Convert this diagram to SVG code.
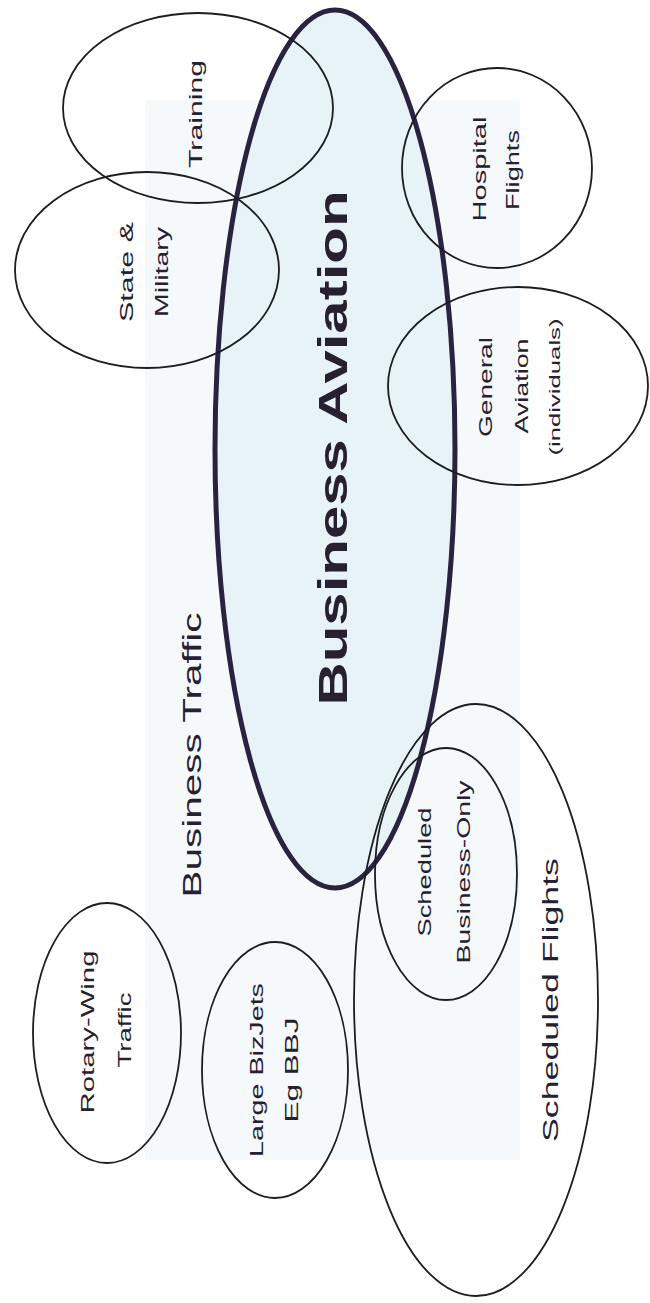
<svg xmlns="http://www.w3.org/2000/svg" width="650" height="1303" viewBox="0 0 650 1303">
<style>
.lbl{font-family:"Liberation Sans",Arial,sans-serif;fill:#262030;text-anchor:middle}
.thin{fill:none;stroke:#1c1c22;stroke-width:1.8}
.big{fill:#e8f3f8;stroke:#2a2340;stroke-width:5}
</style>
<rect width="650" height="1303" fill="#ffffff"/>
<rect x="145" y="100" width="375" height="1060" fill="#f5f9fc"/>
<g id="business-aviation">
<ellipse class="big" cx="335" cy="449" rx="120" ry="439"/>
<text class="lbl" transform="translate(347,448) rotate(-90)" font-size="40" font-weight="bold" textLength="515" lengthAdjust="spacingAndGlyphs">Business Aviation</text>
</g>
<g id="training">
<ellipse class="thin" cx="198" cy="108" rx="135" ry="95"/>
<text class="lbl" transform="translate(202,114) rotate(-90)" font-size="19" textLength="108" lengthAdjust="spacingAndGlyphs">Training</text>
</g>
<g id="state-military">
<ellipse class="thin" cx="147" cy="270" rx="132" ry="98"/>
<text class="lbl" transform="translate(133,272) rotate(-90)" font-size="19" textLength="100" lengthAdjust="spacingAndGlyphs">State &amp;</text>
<text class="lbl" transform="translate(168,272) rotate(-90)" font-size="19" textLength="90" lengthAdjust="spacingAndGlyphs">Military</text>
</g>
<g id="hospital-flights">
<ellipse class="thin" cx="497" cy="168" rx="95" ry="100"/>
<text class="lbl" transform="translate(486,169) rotate(-90)" font-size="19" textLength="105" lengthAdjust="spacingAndGlyphs">Hospital</text>
<text class="lbl" transform="translate(519,170) rotate(-90)" font-size="19" textLength="80" lengthAdjust="spacingAndGlyphs">Flights</text>
</g>
<g id="general-aviation">
<ellipse class="thin" cx="518" cy="386" rx="130" ry="99"/>
<text class="lbl" transform="translate(492,387) rotate(-90)" font-size="19" textLength="100" lengthAdjust="spacingAndGlyphs">General</text>
<text class="lbl" transform="translate(528,386) rotate(-90)" font-size="19" textLength="95" lengthAdjust="spacingAndGlyphs">Aviation</text>
<text class="lbl" transform="translate(560,387) rotate(-90)" font-size="14" textLength="137" lengthAdjust="spacingAndGlyphs">(individuals)</text>
</g>
<g id="business-traffic">
<text class="lbl" transform="translate(201,755) rotate(-90)" font-size="25" textLength="285" lengthAdjust="spacingAndGlyphs">Business Traffic</text>
</g>
<g id="scheduled-flights">
<ellipse class="thin" cx="476" cy="1000" rx="122" ry="296"/>
<text class="lbl" transform="translate(558,1000) rotate(-90)" font-size="22" textLength="284" lengthAdjust="spacingAndGlyphs">Scheduled Flights</text>
</g>
<g id="scheduled-business-only">
<ellipse class="thin" cx="446" cy="874" rx="71" ry="126"/>
<text class="lbl" transform="translate(431,872) rotate(-90)" font-size="18" textLength="129" lengthAdjust="spacingAndGlyphs">Scheduled</text>
<text class="lbl" transform="translate(470,872) rotate(-90)" font-size="18" textLength="183" lengthAdjust="spacingAndGlyphs">Business-Only</text>
</g>
<g id="rotary-wing">
<ellipse class="thin" cx="107" cy="1033" rx="74" ry="130"/>
<text class="lbl" transform="translate(94,1032) rotate(-90)" font-size="19" textLength="163" lengthAdjust="spacingAndGlyphs">Rotary-Wing</text>
<text class="lbl" transform="translate(131,1030) rotate(-90)" font-size="19" textLength="75" lengthAdjust="spacingAndGlyphs">Traffic</text>
</g>
<g id="large-bizjets">
<ellipse class="thin" cx="275" cy="1070" rx="73" ry="128"/>
<text class="lbl" transform="translate(263,1070) rotate(-90)" font-size="19" textLength="174" lengthAdjust="spacingAndGlyphs">Large BizJets</text>
<text class="lbl" transform="translate(298,1070) rotate(-90)" font-size="19" textLength="105" lengthAdjust="spacingAndGlyphs">Eg BBJ</text>
</g>
<g id="connectors"></g>
</svg>
